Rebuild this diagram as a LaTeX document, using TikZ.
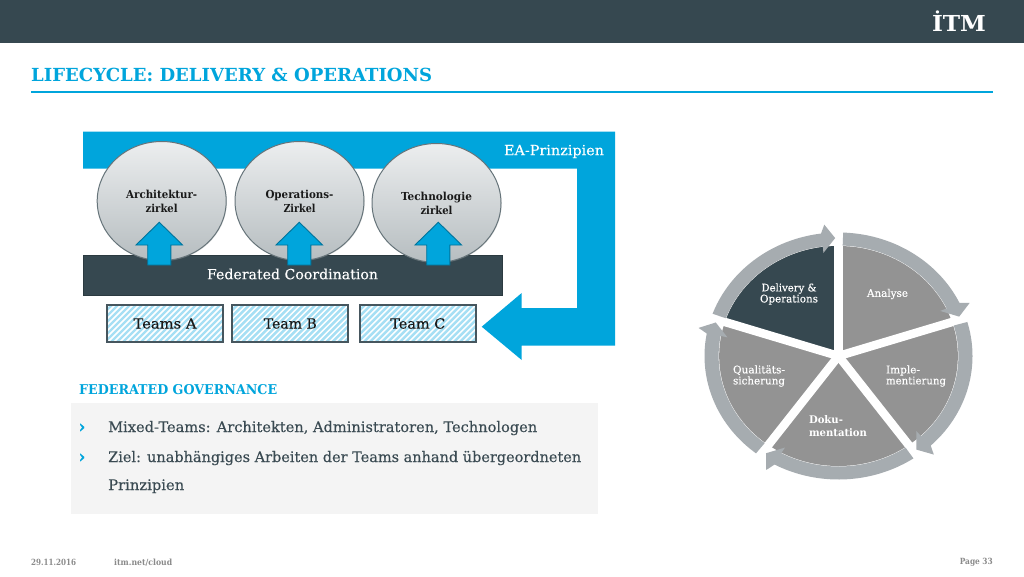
\documentclass[tikz,border=0pt]{standalone}
\usepackage{fontspec}
\usepackage{graphicx}
\setmainfont{DejaVu Serif}
\newfontfamily\semi[FakeBold=0.22]{DejaVu Serif}
\usetikzlibrary{shapes.geometric,shadows}
\definecolor{dark}{HTML}{364850}
\definecolor{itmblue}{HTML}{00A5DC}
\definecolor{rim}{HTML}{A6ACB0}
\definecolor{sect}{HTML}{939393}
\definecolor{panel}{HTML}{F4F4F4}
\definecolor{bodytx}{HTML}{3A4A52}
\definecolor{hatch}{HTML}{A6DFF4}
\definecolor{foot}{HTML}{8A8A8A}
\definecolor{cedge}{HTML}{66747A}
\definecolor{ctop}{HTML}{ECEEEF}
\definecolor{cbot}{HTML}{B6BDC0}
\definecolor{tedge}{HTML}{46565E}
% #1 size, #2 exact width, #3 text
\newcommand{\wt}[3]{\fontsize{#1pt}{#1pt}\selectfont\resizebox{#2pt}{\height}{#3}}
\tikzset{
  circ/.style={ellipse,draw=cedge,line width=1pt,minimum width=129pt,minimum height=119pt,inner sep=0pt,
     top color=ctop,bottom color=cbot,drop shadow={shadow xshift=0.6pt,shadow yshift=-0.8pt,opacity=.25},align=center,text=black!90},
  uparrow/.style={fill=itmblue,draw=itmblue!70!black,line width=0.9pt,line join=miter},
  teambox/.style={rectangle,draw=tedge,line width=2pt,minimum width=116pt,minimum height=37pt,inner sep=0pt,text=black!90,
     path picture={\foreach \i in {-50,-44,...,130}{\draw[hatch,line width=2.4pt] ([xshift=\i pt]path picture bounding box.south west)--++(50pt,50pt);}}},
  lab/.style={inner sep=0pt,text=white,align=center},
  labl/.style={inner sep=0pt,text=white,align=left},
  body/.style={inner sep=0pt,anchor=base west,text=bodytx},
}
\begin{document}
\begin{tikzpicture}[x=1pt,y=-1pt]
\useasboundingbox (0,0) rectangle (1024,576);
\fill[white] (0,0) rectangle (1024,576);
% header
\fill[dark] (0,0) rectangle (1024,42.5);
\node[inner sep=0pt,text=white] (logo) at (959,21) {\bfseries\wt{22}{54}{İTM}};
\node[inner sep=0pt,anchor=base west,text=itmblue] (title) at (31,81.5) {\bfseries\wt{18}{401}{LIFECYCLE: DELIVERY \& OPERATIONS}};
\fill[itmblue] (31,91) rectangle (993,93);
% EA band
\fill[itmblue] (83,131.5) -- (615,131.5) -- (615,345.7) -- (521.7,345.7) -- (521.7,360) -- (481.7,326.7) -- (521.7,293) -- (521.7,308) -- (577,308) -- (577,168.5) -- (83,168.5) -- cycle;
\node[inner sep=0pt,text=white] (ea) at (554,151.5) {\semi\wt{14}{100}{EA-Prinzipien}};
% bar
\node[rectangle,fill=dark,draw=black!20!dark,line width=.6pt,minimum width=419pt,minimum height=40pt,inner sep=0pt,text=white] (fc) at (292.5,275) {};
\node[inner sep=0pt,text=white] (fctext) at (292.5,274) {\semi\wt{14}{171}{Federated Coordination}};
% circles
\node[circ] (c1) at (161.7,201) {\bfseries\wt{11}{71}{Architektur-}\\[2pt]\bfseries\wt{11}{32}{zirkel}};
\node[circ] (c2) at (299.5,201) {\bfseries\wt{11}{68}{Operations-}\\[2pt]\bfseries\wt{11}{32}{Zirkel}};
\node[circ] (c3) at (436.5,203) {\bfseries\wt{11}{71}{Technologie}\\[2pt]\bfseries\wt{11}{32}{zirkel}};
% up arrows
\foreach \x in {159.3,299.3,438.3}{
  \draw[uparrow] (\x,222.3) -- ++(23.3,22.7) -- ++(-11.7,0) -- ++(0,20) -- ++(-23.2,0) -- ++(0,-20) -- ++(-11.7,0) -- cycle;
}
% teams
\node[teambox] (ta) at (165,323.5) {\semi\wt{14}{63}{Teams A}};
\node[teambox] (tb) at (290.3,323.5) {\semi\wt{14}{53}{Team B}};
\node[teambox] (tc) at (417.8,323.5) {\semi\wt{14}{55}{Team C}};
% governance
\node[inner sep=0pt,anchor=base west,text=itmblue] (gov) at (79,394) {\bfseries\wt{13.5}{198}{FEDERATED GOVERNANCE}};
\fill[panel] (71,402.7) rectangle (598,513.7);
\node[inner sep=0pt,text=itmblue] (b1) at (82,428) {\semi\bfseries\fontsize{17}{17}\selectfont ›};
\node[inner sep=0pt,text=itmblue] (b2) at (82,458) {\semi\bfseries\fontsize{17}{17}\selectfont ›};
\node[body] (t1) at (108,432) {\semi\wt{14.5}{429}{Mixed-Teams: Architekten, Administratoren, Technologen}};
\node[body] (t2) at (108,462) {\semi\wt{14.5}{473}{Ziel: unabhängiges Arbeiten der Teams anhand übergeordneten}};
\node[body] (t3) at (108,490) {\semi\wt{14.5}{76}{Prinzipien}};
% footer
\node[inner sep=0pt,anchor=base west,text=foot] (d) at (31,565.5) {\bfseries\wt{8.5}{45}{29.11.2016}};
\node[inner sep=0pt,anchor=base west,text=foot] (u) at (114,565.5) {\bfseries\wt{8.5}{58}{itm.net/cloud}};
\node[inner sep=0pt,anchor=base east,text=foot] (p) at (993,564.5) {\bfseries\wt{8.5}{33}{Page 33}};
% wheel
\begin{scope}[shift={(838.5,356)},x=1.085pt,y=1pt]
  \fill[sect] (0,0) ellipse ({110*1.085pt} and 110pt);
  \fill[dark] (0,0) -- (0,110) arc[start angle=90,end angle=162,x radius=110*1.085pt,y radius=110pt] -- cycle;
  \foreach \a in {90,18,-54,-126,162}{\draw[white,line width=8.5pt] (0,0) -- ({113*cos(\a)},{113*sin(\a)});}
  \foreach \r in {0,72,144,216,288}{
    \pgfmathsetmacro{\sa}{88-\r}
    \pgfmathsetmacro{\ea}{25.5-\r}
    \pgfmathsetmacro{\ow}{23.7-\r}
    \pgfmathsetmacro{\ti}{19.5-\r}
    \pgfmathsetmacro{\iw}{25.7-\r}
    \fill[rim] plot[smooth,domain=\sa:\ea,samples=40] ({123.5*cos(\x)},{123.5*sin(\x)})
      -- ({132*cos(\ow)},{132*sin(\ow)}) -- ({118*cos(\ti)},{118*sin(\ti)}) -- ({104*cos(\iw)},{104*sin(\iw)})
      -- plot[smooth,domain=\ea:\sa,samples=40] ({110.5*cos(\x)},{110.5*sin(\x)}) -- cycle;
  }
\end{scope}
\node[lab] (w1) at (887.5,294) {\semi\wt{10.5}{41}{Analyse}};
\node[lab] (w2) at (789,294) {\semi\wt{10.5}{55}{Delivery \&}\\[-1pt]\semi\wt{10.5}{58}{Operations}};
\node[labl] (w3) at (916,376) {\semi\wt{10.5}{34}{Imple-}\\[-1pt]\semi\wt{10.5}{60}{mentierung}};
\node[labl] (w4) at (838,426) {\bfseries\wt{10.5}{34}{Doku-}\\[1pt]\bfseries\wt{10.5}{58}{mentation}};
\node[labl] (w5) at (759,376) {\semi\wt{10.5}{52}{Qualitäts-}\\[-1pt]\semi\wt{10.5}{52}{sicherung}};
\end{tikzpicture}
\end{document}
